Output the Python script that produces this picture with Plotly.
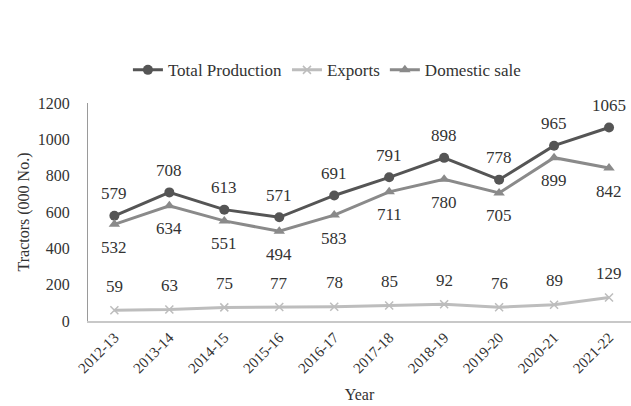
import plotly.graph_objects as go

years = ["2012-13", "2013-14", "2014-15", "2015-16", "2016-17",
         "2017-18", "2018-19", "2019-20", "2020-21", "2021-22"]
total_production = [579, 708, 613, 571, 691, 791, 898, 778, 965, 1065]
exports = [59, 63, 75, 77, 78, 85, 92, 76, 89, 129]
domestic_sale = [532, 634, 551, 494, 583, 711, 780, 705, 899, 842]
y_ticks = [0, 200, 400, 600, 800, 1000, 1200]

FONT = "Times New Roman"
C_TOTAL = "#555555"
C_EXPORT = "#bdbdbd"
C_DOM = "#8a8a8a"
TXT = "#333333"

fig = go.Figure()
fig.add_trace(go.Scatter(
    x=years, y=total_production, name="Total Production", mode="lines+markers",
    line=dict(color=C_TOTAL, width=3), marker=dict(symbol="circle", size=10, color=C_TOTAL)))
fig.add_trace(go.Scatter(
    x=years, y=exports, name="Exports", mode="lines+markers",
    line=dict(color=C_EXPORT, width=3),
    marker=dict(symbol="x-thin", size=8, color=C_EXPORT, line=dict(color=C_EXPORT, width=1.5))))
fig.add_trace(go.Scatter(
    x=years, y=domestic_sale, name="Domestic sale", mode="lines+markers",
    line=dict(color=C_DOM, width=3), marker=dict(symbol="triangle-up", size=10, color=C_DOM)))

annotations = []
for yr, v in zip(years, total_production):
    annotations.append(dict(x=yr, y=v, text=str(v), showarrow=False, yshift=22))
for yr, v in zip(years, domestic_sale):
    annotations.append(dict(x=yr, y=v, text=str(v), showarrow=False, yshift=-23))
for yr, v in zip(years, exports):
    annotations.append(dict(x=yr, y=v, text=str(v), showarrow=False, yshift=24))
for a in annotations:
    a["font"] = dict(family=FONT, size=17, color=TXT)

fig.update_layout(
    width=631, height=406,
    margin=dict(l=88, r=0, t=103, b=85),
    paper_bgcolor="white", plot_bgcolor="white",
    font=dict(family=FONT, size=16, color=TXT),
    showlegend=True,
    legend=dict(orientation="h", x=0.44, y=1.15, xanchor="center", yanchor="middle",
                font=dict(family=FONT, size=17, color=TXT),
                itemwidth=30, tracegroupgap=0),
    annotations=annotations,
    xaxis=dict(
        type="category", range=[-0.48, 9.4],
        showline=True, linecolor="#c8c8c8", linewidth=2,
        showgrid=False, ticks="", tickangle=-45,
        tickfont=dict(family=FONT, size=15, color=TXT),
        title=dict(text="Year", font=dict(family=FONT, size=16, color=TXT), standoff=14)),
    yaxis=dict(
        range=[0, 1200], tickvals=y_ticks,
        showline=True, linecolor="#9a9a9a", linewidth=1,
        showgrid=False, zeroline=False, ticks="",
        ticklabelstandoff=14,
        tickfont=dict(family=FONT, size=16, color=TXT),
        title=dict(text="Tractors (000 No.)", font=dict(family=FONT, size=16, color=TXT),
                   standoff=4)),
)

fig.write_html("out.html")
